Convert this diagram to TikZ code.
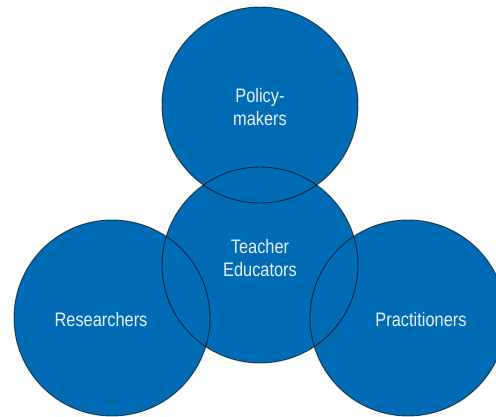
\documentclass[tikz,border=0pt]{standalone}
\usepackage{fontspec}
\setmainfont{Liberation Sans}[FakeStretch=0.84]
\definecolor{vennblue}{RGB}{0,108,182}
\definecolor{venntext}{RGB}{235,241,248}
\begin{document}
\begin{tikzpicture}[x=1pt,y=-1pt,
circ/.style={circle, fill=vennblue, minimum size=196pt, inner sep=0pt, outer sep=0pt},
rim/.style={draw=black, draw opacity=0.65, line width=0.9pt},
lab/.style={inner sep=1pt, align=center, text=venntext, font=\fontsize{19.5}{23}\selectfont}]

\useasboundingbox (0,0) rectangle (496,416);

\node[circ] at (260,105) (pol) {};
\node[circ] at (260,265) (edu) {};
\node[circ] at (112,318) (res) {};
\node[circ] at (408,318) (pra) {};

% outlines on top of all fills
\foreach \c in {pol,edu,res,pra}
  \draw[rim] (\c.center) circle[radius=98pt];

\node[lab] at ([yshift=-2pt]pol.center) (pollab) {Policy-\\makers};
\node[lab] at ([yshift=7pt]edu.center) (edulab) {Teacher\\Educators};
\node[lab] at ([xshift=-11pt,yshift=-2pt]res.center) (reslab) {Researchers};
\node[lab] at ([xshift=13pt,yshift=-2pt]pra.center) (pralab) {Practitioners};
\end{tikzpicture}
\end{document}
